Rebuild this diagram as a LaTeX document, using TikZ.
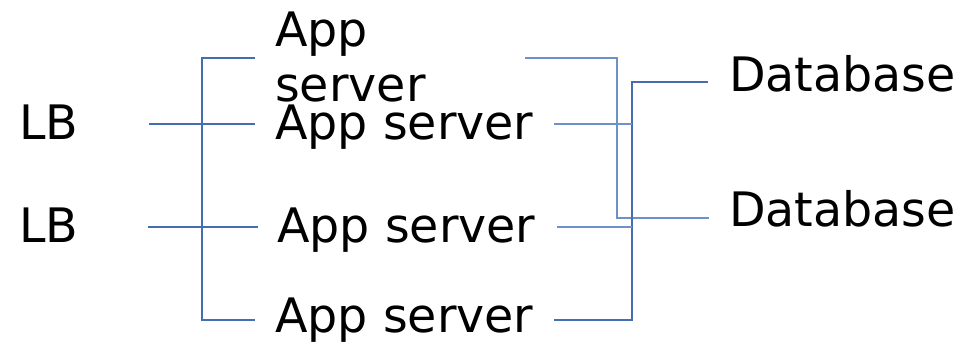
\documentclass[tikz,border=0pt]{standalone}
\usepackage{fontspec}
\setmainfont{DejaVu Sans}
\definecolor{wire}{RGB}{68,110,175}
\definecolor{wirelight}{RGB}{110,145,200}
\begin{document}
\begin{tikzpicture}[x=1pt,y=-1pt,
  label/.style={anchor=base west,inner sep=0pt,font=\fontsize{47.5}{55}\selectfont},
  link/.style={draw=wire,line width=1.3pt},
  linklight/.style={draw=wirelight,line width=1.3pt}]
\useasboundingbox (0,0) rectangle (961,344);

% text labels (base of a two-line label is its last line)
\node[label] (lb1) at (19,140) {LB};
\node[label] (lb2) at (19,243) {LB};
\node[label,align=left] (app1) at (275,102) {App\\server};
\node[label] (app2) at (275,140) {App server};
\node[label] (app3) at (277,243) {App server};
\node[label] (app4) at (275,333) {App server};
\node[label] (db1) at (729,92) {Database};
\node[label] (db2) at (729,227) {Database};

% connector end points
\coordinate (lbout1) at (149,124);
\coordinate (lbout2) at (148,227);
\coordinate (appin1) at (255,58);
\coordinate (appin2) at (255,124);
\coordinate (appin3) at (258,227);
\coordinate (appin4) at (255,320);
\coordinate (bus) at (202,58);
\coordinate (busend) at (202,320);
\coordinate (appout1) at (525,58);
\coordinate (appout2) at (554,124);
\coordinate (appout3) at (557,227);
\coordinate (appout4) at (554,320);
\coordinate (dbin1) at (708,82);
\coordinate (dbin2) at (709,218);

% load balancers to app servers
\draw[link] (appin1) -| (busend) -- (appin4);
\draw[link] (lbout1) -- (appin2);
\draw[link] (lbout2) -- (appin3);

% app servers to databases
\draw[linklight] (appout1) -| (617,218) -- (dbin2);
\draw[link] (dbin1) -| (632,320) -- (appout4);
\draw[linklight] (appout2) -- (632,124);
\draw[linklight] (appout3) -- (632,227);
\end{tikzpicture}
\end{document}
